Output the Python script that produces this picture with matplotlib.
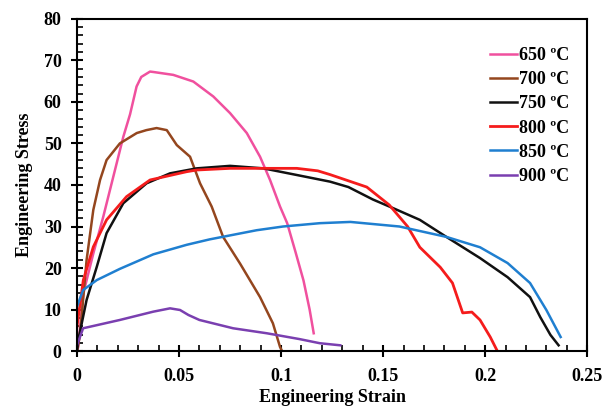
import numpy as np
import matplotlib.pyplot as plt
from matplotlib.ticker import MultipleLocator

plt.rcParams["font.family"] = ["Liberation Serif", "DejaVu Serif"]
plt.rcParams["font.weight"] = "bold"

# 650 C
s650 = [0, 0.0006, 0.0031, 0.008, 0.0129, 0.0178, 0.0227, 0.026, 0.0292, 0.0315, 0.0358,
        0.0374, 0.0472, 0.057, 0.0668, 0.075, 0.0832, 0.0897, 0.0946, 0.0995, 0.103,
        0.107, 0.111, 0.114, 0.116]
e650 = [0, 1, 13.9, 23.5, 32.4, 42, 51.6, 57, 63.7, 66, 67.3,
        67.2, 66.5, 64.9, 61.3, 57.3, 52.5, 46.8, 41.2, 34.8, 30.8,
        24, 17, 10, 4.3]
# 700 C
s700 = [0, 0.0015, 0.0047, 0.008, 0.0113, 0.0145, 0.021, 0.0293, 0.034, 0.039, 0.044,
        0.0489, 0.0554, 0.0603, 0.066, 0.0716, 0.080, 0.0897, 0.096, 0.0995, 0.1005]
e700 = [0, 4, 21.9, 34, 41.2, 46, 50, 52.5, 53.2, 53.7, 53.2,
        49.6, 46.8, 40.4, 34.8, 27.5, 21, 13, 6.7, 1, 0]
# 750 C
s750 = [0, 0.0006, 0.0047, 0.0097, 0.0145, 0.0227, 0.0341, 0.0456, 0.0587, 0.075, 0.0913,
        0.1077, 0.124, 0.133, 0.145, 0.155, 0.168, 0.181, 0.1975, 0.211, 0.222,
        0.227, 0.232, 0.236]
e750 = [0, 2.6, 12.3, 20.3, 28.4, 35.6, 40.4, 42.8, 44, 44.6, 44,
        42.4, 40.8, 39.5, 36.5, 34.4, 31.6, 27.5, 22.4, 17.8, 13,
        8.2, 3.9, 1.4]
# 800 C
s800 = [0, 0.0031, 0.008, 0.0145, 0.0243, 0.0358, 0.0538, 0.0587, 0.075, 0.0913, 0.1077,
        0.118, 0.124, 0.130, 0.142, 0.153, 0.162, 0.168, 0.178, 0.184, 0.189,
        0.1935, 0.1975, 0.2025, 0.206]
e800 = [5.9, 17.1, 25.1, 31.6, 37.2, 41.2, 43.2, 43.6, 44, 44, 44,
        43.4, 42.5, 41.5, 39.5, 35.2, 30, 25, 20.2, 16.4, 9.2,
        9.4, 7.5, 3.4, 0]
# 850 C
s850 = [0, 0.003, 0.0097, 0.021, 0.0374, 0.0538, 0.065, 0.0765, 0.088, 0.101, 0.119,
        0.134, 0.158, 0.181, 0.1975, 0.211, 0.222, 0.230, 0.237]
e850 = [10.7, 14.7, 17.1, 19.8, 23.3, 25.6, 26.9, 28, 29.1, 30, 30.8,
        31.1, 30, 27.5, 25, 21.2, 16.4, 9.9, 3.4]
# 900 C
s900 = [0, 0.003, 0.021, 0.0374, 0.0456, 0.0505, 0.0546, 0.060, 0.0765, 0.093, 0.109,
        0.119, 0.129]
e900 = [1.4, 5.5, 7.5, 9.5, 10.3, 9.9, 8.7, 7.5, 5.5, 4.3, 2.9,
        1.9, 1.4]

labels = ["650 ºC", "700 ºC", "750 ºC", "800 ºC", "850 ºC", "900 ºC"]
colors = ["#f0509e", "#94461e", "#111111", "#f51c1c", "#1f7fd0", "#7a3fb0"]
xticks = [0, 0.05, 0.1, 0.15, 0.2, 0.25]
xticklabels = ["0", "0.05", "0.1", "0.15", "0.2", "0.25"]

fig = plt.figure(figsize=(6.11, 4.18), dpi=100)
ax = fig.add_axes([0.126, 0.160, 0.835, 0.795])

series = [(s650, e650), (s700, e700), (s750, e750), (s800, e800), (s850, e850), (s900, e900)]
for (s, e), lab, c in zip(series, labels, colors):
    ax.plot(s, e, color=c, lw=1.8 if lab != "800 ºC" else 2.0, label=lab)

ax.set_xlim(0, 0.25)
ax.set_ylim(0, 80)
ax.set_xticks(xticks)
ax.set_xticklabels(xticklabels)
ax.set_yticks(np.arange(0, 81, 10))
ax.xaxis.set_minor_locator(MultipleLocator(0.01))
ax.yaxis.set_minor_locator(MultipleLocator(2))
ax.tick_params(which="major", direction="inout", length=8, width=1.5, labelsize=13)
ax.tick_params(axis="x", which="major", pad=8)
ax.tick_params(axis="y", which="major", pad=7)
ax.tick_params(which="minor", direction="in", length=4, width=1.2)
for sp in ax.spines.values():
    sp.set_linewidth(1.5)

ax.set_xlabel("Engineering Strain", fontsize=13, fontweight="bold", labelpad=3)
ax.set_ylabel("Engineering Stress", fontsize=13, fontweight="bold", labelpad=8)

leg = ax.legend(loc="upper right", frameon=False, fontsize=13, handlelength=1.5,
                handletextpad=0.1, labelspacing=0.4, borderaxespad=0.6,
                bbox_to_anchor=(1.0, 0.97))
for t in leg.get_texts():
    t.set_fontweight("bold")

fig.savefig("out.png", dpi=100)
